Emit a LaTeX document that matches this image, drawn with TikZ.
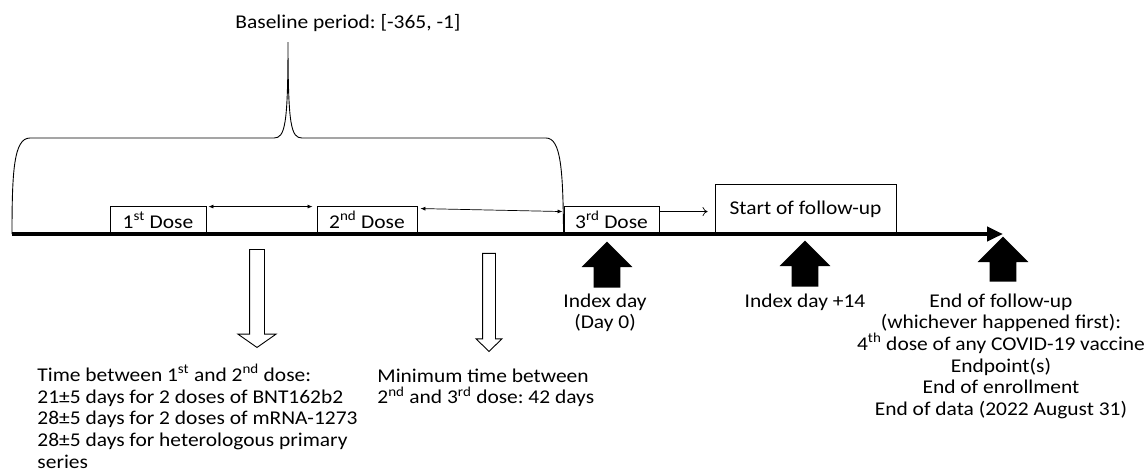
\documentclass[tikz,border=0pt]{standalone}
\usepackage{fontspec}
\setmainfont{Carlito}[FakeStretch=1.1]
\usepackage{tikz}
\usetikzlibrary{arrows.meta,shapes,positioning}
\frenchspacing

\begin{document}
\begin{tikzpicture}[x=1pt, y=-1pt, font=\fontsize{19.5}{21.7}\selectfont, line width=0.9pt]
\tikzstyle{dose} = [rectangle, draw = black, fill = white, inner sep = 0pt, minimum height = 28pt]
\tikzstyle{bigup} = [single arrow, fill = black, rotate = 90, inner xsep = 0pt, inner ysep = 13pt, single arrow head extend = 12pt, minimum height = 46pt, anchor = tip]
\tikzstyle{hollow} = [single arrow, draw = black, fill = white, rotate = -90, inner xsep = 0pt, minimum height = 98pt, anchor = tip]
\tikzstyle{label} = [align = center, inner sep = 0pt]
\useasboundingbox (0,0) rectangle (1147,475);
\coordinate (tlstart) at (12,234);
\coordinate (tlend) at (1003,234);
% doses on the time line
\node (dose1) [dose, minimum width = 96pt] at (158,220) {1\textsuperscript{st} Dose};
\node (dose2) [dose, minimum width = 100pt] at (367,220) {2\textsuperscript{nd} Dose};
\node (dose3) [dose, minimum width = 95pt] at (611.5,220) {3\textsuperscript{rd} Dose};
\node (start) [dose, minimum width = 181pt, minimum height = 50pt] at (805.5,209) {Start of follow-up};
\draw [{Latex[length=5pt,width=4pt]}-{Latex[length=5pt,width=4pt]}, line width=0.7pt] ([xshift=2pt,yshift=-1pt]dose1.north east) -- ([xshift=-4pt,yshift=-1pt]dose2.north west);
\draw [{Latex[length=5pt,width=4pt]}-{Latex[length=5pt,width=4pt]}, line width=0.7pt] ([xshift=3pt,yshift=-3pt]dose2.north east) -- ([xshift=-1pt,yshift=-6pt]dose3.north west);
\draw [-{To[length=5pt,width=9pt]}, line width=0.7pt, shorten >=7pt] ([yshift=-6pt]dose3.north east) -- ([yshift=-6pt]dose3.north east -| start.west);
% baseline brace
\node (baseline) [label, anchor = base] at (348,28) {Baseline period: [-365, -1]};
\draw (tlstart) .. controls (12,170) and (14,138) .. (30,138) -- (274,138)
  .. controls (285,138) and (288,125) .. (288,42)
  .. controls (288,125) and (291,138) .. (302,138) -- (546,138)
  .. controls (561,138) and (563,170) .. (dose3.south west);
\draw [line width=4.5pt, -{Triangle[length=16pt,width=14pt]}] (tlstart) -- (tlend);
% gaps between doses
\node (gap12) [hollow, inner ysep = 7pt, single arrow head extend = 11.5pt, single arrow tip angle = 110] at (257,348) {};
\node (gap23) [hollow, inner ysep = 6pt, single arrow head extend = 6.5pt, single arrow tip angle = 92] at (489,352) {};
\node (gap12txt) [label, align = left, anchor = north west] at (37,364) {Time between 1\textsuperscript{st} and 2\textsuperscript{nd} dose:\\21±5 days for 2 doses of BNT162b2\\28±5 days for 2 doses of mRNA-1273\\28±5 days for heterologous primary\\series};
\node (gap23txt) [label, align = left, anchor = north west] at (377,368) {Minimum time between\\2\textsuperscript{nd} and 3\textsuperscript{rd} dose: 42 days};
% index day and end of follow-up
\node (idx0) [bigup] at (607,241) {};
\node (idx14) [bigup] at (805,240) {};
\node (endfu) [bigup, minimum height = 45pt] at (1003,236) {};
\node (idx0txt) [label, anchor = north] at (605,293) {Index day\\(Day 0)};
\node (idx14txt) [label, anchor = north] at (805,293) {Index day +14};
\node (endfutxt) [label, anchor = north] at (1001,293) {End of follow-up\\(whichever happened first):\\4\textsuperscript{th} dose of any COVID-19 vaccine\\Endpoint(s)\\End of enrollment\\End of data (2022 August 31)};
\end{tikzpicture}
\end{document}
